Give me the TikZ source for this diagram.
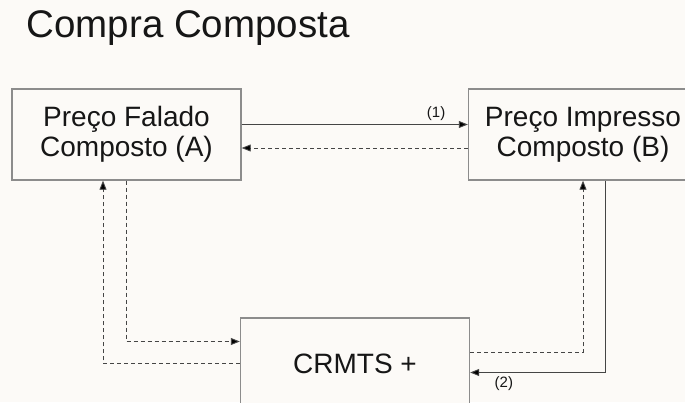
\documentclass[tikz,border=0pt]{standalone}
\usepackage{fontspec}
\setmainfont{Liberation Sans}
\usetikzlibrary{positioning, arrows.meta}
\definecolor{paper}{HTML}{FCFAF7}
\definecolor{edge}{HTML}{8C8C8C}
\definecolor{ink}{HTML}{161616}
\definecolor{wire}{HTML}{454545}
\tikzset{box/.style={draw=edge, line width=1.4pt, fill=paper, minimum width=229pt, minimum height=91pt,
                     align=center, text=ink, font=\fontsize{28}{30}\selectfont},
         tag/.style={text=ink, font=\fontsize{15}{17}\selectfont},
         flow/.style={draw=wire, line width=0.9pt, -{Triangle[length=9pt,width=7pt,fill=black]}},
         back/.style={flow, dash pattern=on 4pt off 3pt},
        }

\begin{document}
\begin{tikzpicture}[x=1pt,y=-1pt]
        \clip(0,0)rectangle(685,402);
        \fill[paper](0,0)rectangle(685,402);

        \node[anchor=base west, text=ink, font=\fontsize{38.5}{42}\selectfont](title)at(23,37){Compra Composta};

        \node[box](falado)at(126.5,134.5){Preço Falado\\Composto (A)};
        \node[box](impresso)at(583,134.5){Preço Impresso\\Composto (B)};
        \node[box](crmts)at(355,363.5){CRMTS +};

        \draw[flow]([yshift=10pt]falado.east)--node[tag, above, pos=0.86](one){(1)}([yshift=10pt]impresso.west);
        \draw[back]([yshift=-13.5pt]impresso.west)--([yshift=-13.5pt]falado.east);

        \draw[back](falado.south)|-([yshift=22pt]crmts.west);
        \draw[back](crmts.west)-|([xshift=-23.5pt]falado.south);

        \draw[back]([yshift=11pt]crmts.east)-|(impresso.south);
        \draw[flow]([xshift=22pt]impresso.south)|-node[tag, below, pos=0.875](two){(2)}([yshift=-9pt]crmts.east);
    \end{tikzpicture}
\end{document}
